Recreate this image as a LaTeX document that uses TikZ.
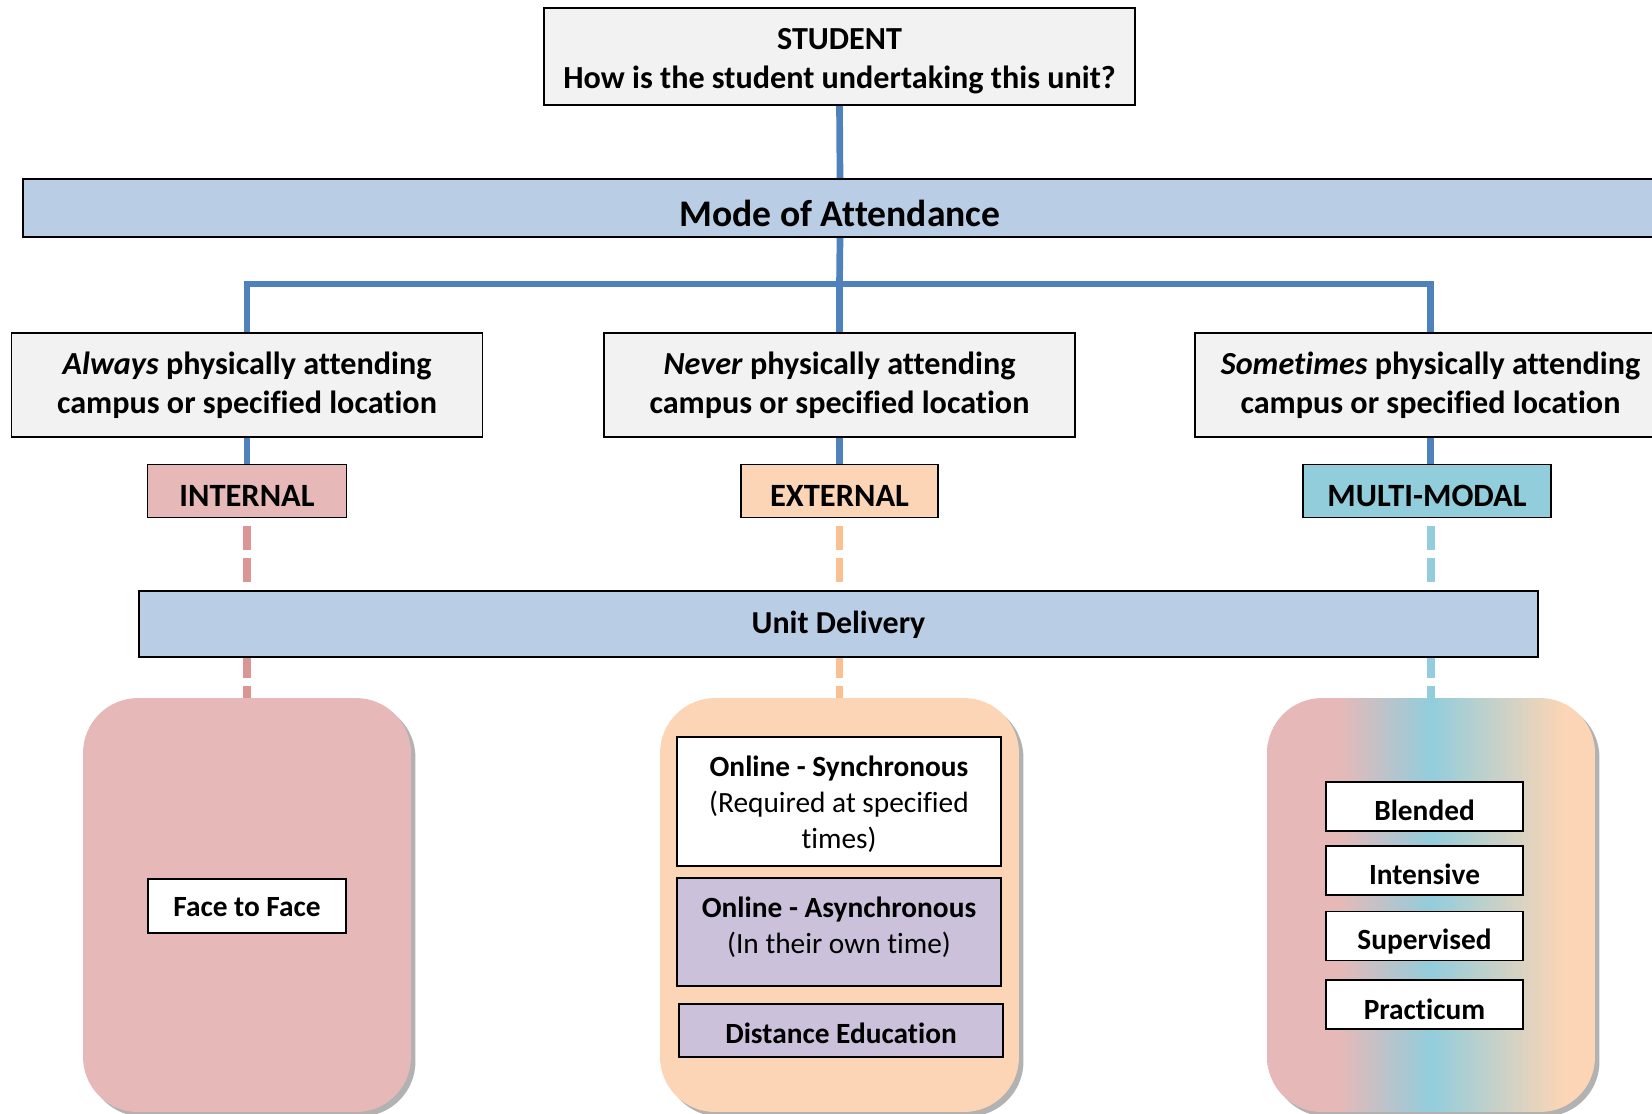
\documentclass[tikz,border=0pt]{standalone}
\usepackage{fontspec}
\setmainfont{Carlito}[Ligatures=NoCommon]
\usetikzlibrary{positioning, shadows, backgrounds}

\definecolor{attgray}{HTML}{F2F2F2}
\definecolor{barblue}{HTML}{B9CDE5}
\definecolor{lineblue}{HTML}{4F81BD}
\definecolor{intpink}{HTML}{E6B9B8}
\definecolor{extpeach}{HTML}{FBD5B5}
\definecolor{mmblue}{HTML}{92CDDC}
\definecolor{dashpink}{HTML}{D99694}
\definecolor{dashpeach}{HTML}{FAC090}
\definecolor{dashblue}{HTML}{93CDDD}
\definecolor{asyncpurple}{HTML}{CCC1DA}

% the node box is mapped onto 25bp..75bp of the shading
\pgfdeclarehorizontalshading{mmshade}{100bp}{color(0bp)=(intpink); color(36bp)=(intpink); color(50bp)=(mmblue); color(70bp)=(extpeach); color(100bp)=(extpeach)}

% text sits a little low in its box
\newcommand{\dn}[2][2.7pt]{\raisebox{-#1}[\height][\depth]{#2}}

\begin{document}
\begin{tikzpicture}[x=0.02cm, y=-0.02cm, font=\bfseries\fontsize{16.7}{20.5}\selectfont]

		\tikzstyle{att}=[rectangle, draw, line width=0.8pt, fill=attgray, minimum width=9.42cm, minimum height=2.08cm, align=center, font=\bfseries\fontsize{18.3}{22.3}\selectfont]
		\tikzstyle{bar}=[rectangle, draw, line width=0.8pt, fill=barblue]
		\tikzstyle{lab}=[rectangle, draw, line width=0.8pt, minimum height=1.06cm, font=\bfseries\fontsize{18.5}{22}\selectfont]
		\tikzstyle{deliv}=[rectangle, rounded corners=1.1cm, minimum width=6.56cm, minimum height=8.28cm, drop shadow={shadow xshift=0.09cm, shadow yshift=-0.09cm, fill=black, opacity=0.3}]
		\tikzstyle{opt}=[rectangle, draw, line width=0.8pt, fill=white, align=center]
		\tikzstyle{link}=[line width=3.8pt, lineblue]
		\tikzstyle{dlink}=[line width=4.5pt, dash pattern=on 0.48cm off 0.16cm, dash phase=0.48cm]

		\useasboundingbox (0,0) rectangle (1652,1113);

		\node[att, minimum width=11.82cm, minimum height=1.94cm] (student) at (839.5,56.5) {\dn{STUDENT}\\\dn{How is the student undertaking this unit?}};
		\node[bar, minimum width=32.68cm, minimum height=1.16cm, font=\bfseries\fontsize{21.4}{25}\selectfont] (mode) at (840,208) {\dn[3pt]{Mode of Attendance}};

		\node[att] (always)    at (247,385)    {\textit{Always} physically attending\\campus or specified location};
		\node[att] (never)     at (839.5,385)  {\textit{Never} physically attending\\campus or specified location};
		\node[att] (sometimes) at (1430.5,385) {\textit{Sometimes} physically attending\\campus or specified location};

		\node[lab, fill=intpink, minimum width=3.98cm]  (internal) at (247,491)   {\dn{INTERNAL}};
		\node[lab, fill=extpeach, minimum width=3.94cm] (external) at (839.5,491) {\dn{EXTERNAL}};
		\node[lab, fill=mmblue, minimum width=4.96cm]   (multi)    at (1427,491)  {\dn{MULTI-MODAL}};

		\node[bar, minimum width=27.98cm, minimum height=1.32cm, font=\bfseries\fontsize{18.2}{22}\selectfont] (unit) at (838.5,624) {\dn[0.6pt]{Unit Delivery}};

		\node[deliv, fill=intpink] (inbox) at (247,905) {};
		\node[deliv, fill=extpeach, minimum width=7.18cm] (exbox) at (839.5,905) {};
		\node[deliv, shading=mmshade] (mmbox) at (1431,905) {};

		\node[opt, minimum width=3.96cm, minimum height=1.08cm] (f2f) at (247,906) {\dn[0.6pt]{Face to Face}};

		\node[opt, minimum width=6.48cm, minimum height=2.58cm, font=\fontsize{16.7}{20.5}\selectfont] (sync) at (839,801.5) {\dn[1.7pt]{\textbf{Online - Synchronous}}\\\dn[1.7pt]{(Required at specified}\\\dn[1.7pt]{times)}};
		\node[opt, fill=asyncpurple, minimum width=6.48cm, minimum height=2.16cm, font=\fontsize{16.7}{20.5}\selectfont] (async) at (839,932) {\textbf{Online - Asynchronous}\\(In their own time)\\[-13pt]\mbox{}};
		\node[opt, fill=asyncpurple, minimum width=6.48cm, minimum height=1.06cm] (dist) at (841,1030.5) {\dn[1.6pt]{Distance Education}};

		\node[opt, minimum width=3.94cm, minimum height=0.98cm] (blended)    at (1424.5,806.5)  {\dn[2.4pt]{Blended}};
		\node[opt, minimum width=3.94cm, minimum height=0.98cm] (intensive)  at (1424.5,870.5)  {\dn[2.4pt]{Intensive}};
		\node[opt, minimum width=3.94cm, minimum height=0.98cm] (supervised) at (1424.5,936)    {\dn[3.2pt]{Supervised}};
		\node[opt, minimum width=3.94cm, minimum height=0.98cm] (practicum)  at (1424.5,1004.5) {\dn[2.8pt]{Practicum}};

		% Attendance links
		\begin{pgfonlayer}{background}
		   \coordinate (split) at (839.5,284);
		   \draw[link] (student.south) -- (mode.north);
		   \draw[link] (mode.south) -- (split) -- (never.north);
		   \draw[link] (always.north) |- (split) -| (sometimes.north);
		   \draw[link] (always.south) -- (internal.north);
		   \draw[link] (never.south) -- (external.north);
		   \draw[link] (sometimes.south) -- (sometimes.south |- multi.north);

		   % Delivery links
		   \draw[dlink, dashpink] (internal.south) -- (inbox.north);
		   \draw[dlink, dashpeach] (external.south) -- (exbox.north);
		   \draw[dlink, dashblue] (multi.south -| mmbox.north) -- (mmbox.north);
		\end{pgfonlayer}
\end{tikzpicture}
\end{document}
